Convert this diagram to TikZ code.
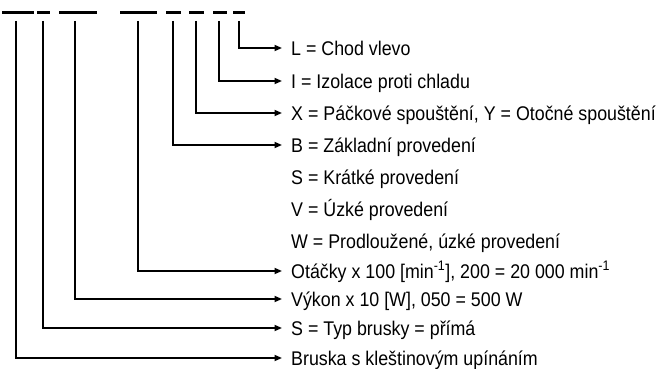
\documentclass[tikz,border=0pt]{standalone}
\usepackage{fontspec}
\setmainfont{Liberation Sans}[FakeStretch=0.9]
\usetikzlibrary{arrows.meta}
\begin{document}
\begin{tikzpicture}[x=1pt,y=-1pt,
  dashbar/.style={line width=3pt},
  conn/.style={line width=1.7pt,line join=miter,-{Triangle[length=7.5pt,width=6pt]}},
  lbl/.style={anchor=west,inner xsep=9pt,inner ysep=0pt,text height=14.2pt,text depth=0pt,
    font=\fontsize{19.8}{22}\selectfont}]
\useasboundingbox (0,0) rectangle (662,369);
% code positions (dashes)
\draw[dashbar] (2,13) -- (34,13);
\draw[dashbar] (37,13) -- (50,13);
\draw[dashbar] (59,13) -- (97,13);
\draw[dashbar] (120,13) -- (157,13);
\draw[dashbar] (166,13) -- (181,13);
\draw[dashbar] (189,13) -- (204,13);
\draw[dashbar] (213,13) -- (227,13);
\draw[dashbar] (233,13) -- (245,13);
% start points of connectors
\coordinate (c1) at (16,21);
\coordinate (c2) at (43,21);
\coordinate (c3) at (75,21);
\coordinate (c4) at (138,21);
\coordinate (c5) at (173,21);
\coordinate (c6) at (196,21);
\coordinate (c7) at (219,21);
\coordinate (c8) at (239,21);
% labels
\node[lbl] (tL) at (282,48) {L = Chod vlevo};
\node[lbl] (tI) at (282,81) {I = Izolace proti chladu};
\node[lbl] (tX) at (282,113) {X = Páčkové spouštění, Y = Otočné spouštění};
\node[lbl] (tB) at (282,145) {B = Základní provedení};
\node[lbl] (tS) at (282,177) {S = Krátké provedení};
\node[lbl] (tV) at (282,209) {V = Úzké provedení};
\node[lbl] (tW) at (282,241) {W = Prodloužené, úzké provedení};
\node[lbl] (tO) at (282,271) {Otáčky x 100 [min\textsuperscript{-1}], 200 = 20 000 min\textsuperscript{-1}};
\node[lbl] (tP) at (282,299) {Výkon x 10 [W], 050 = 500 W};
\node[lbl] (tT) at (282,328) {S = Typ brusky = přímá};
\node[lbl] (tK) at (282,358) {Bruska s kleštinovým upínáním};
% connectors
\draw[conn] (c8) |- (tL.west);
\draw[conn] (c7) |- (tI.west);
\draw[conn] (c6) |- (tX.west);
\draw[conn] (c5) |- (tB.west);
\draw[conn] (c4) |- (tO.west);
\draw[conn] (c3) |- (tP.west);
\draw[conn] (c2) |- (tT.west);
\draw[conn] (c1) |- (tK.west);
\end{tikzpicture}
\end{document}
